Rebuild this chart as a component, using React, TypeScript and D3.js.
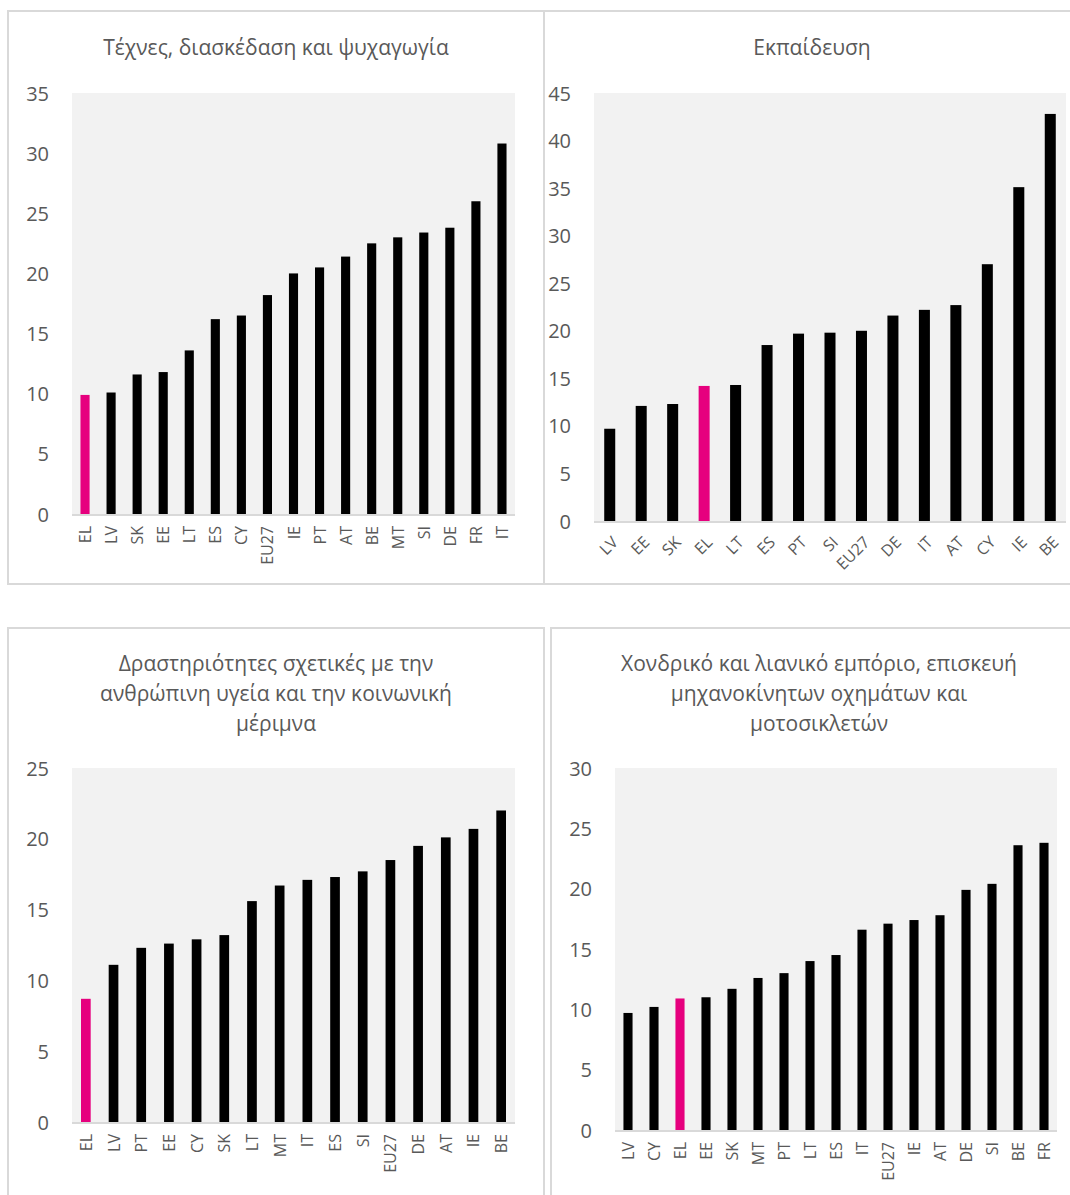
import React from "react";
import * as d3 from "d3";

// ---------- DATA ----------
const artsCountries = ["EL", "LV", "SK", "EE", "LT", "ES", "CY", "EU27", "IE", "PT", "AT", "BE", "MT", "SI", "DE", "FR", "IT"];
const artsValues = [9.9, 10.1, 11.6, 11.8, 13.6, 16.2, 16.5, 18.2, 20.0, 20.5, 21.4, 22.5, 23.0, 23.4, 23.8, 26.0, 30.8];

const eduCountries = ["LV", "EE", "SK", "EL", "LT", "ES", "PT", "SI", "EU27", "DE", "IT", "AT", "CY", "IE", "BE"];
const eduValues = [9.7, 12.1, 12.3, 14.2, 14.3, 18.5, 19.7, 19.8, 20.0, 21.6, 22.2, 22.7, 27.0, 35.1, 42.8];

const healthCountries = ["EL", "LV", "PT", "EE", "CY", "SK", "LT", "MT", "IT", "ES", "SI", "EU27", "DE", "AT", "IE", "BE"];
const healthValues = [8.7, 11.1, 12.3, 12.6, 12.9, 13.2, 15.6, 16.7, 17.1, 17.3, 17.7, 18.5, 19.5, 20.1, 20.7, 22.0];

const tradeCountries = ["LV", "CY", "EL", "EE", "SK", "MT", "PT", "LT", "ES", "IT", "EU27", "IE", "AT", "DE", "SI", "BE", "FR"];
const tradeValues = [9.7, 10.2, 10.9, 11.0, 11.7, 12.6, 13.0, 14.0, 14.5, 16.6, 17.1, 17.4, 17.8, 19.9, 20.4, 23.6, 23.8];

const artsTitle = ["Τέχνες, διασκέδαση και ψυχαγωγία"];
const eduTitle = ["Εκπαίδευση"];
const healthTitle = ["Δραστηριότητες σχετικές με την", "ανθρώπινη υγεία και την κοινωνική", "μέριμνα"];
const tradeTitle = ["Χονδρικό και λιανικό εμπόριο, επισκευή", "μηχανοκίνητων οχημάτων και", "μοτοσικλετών"];

const artsTicks = [0, 5, 10, 15, 20, 25, 30, 35];
const eduTicks = [0, 5, 10, 15, 20, 25, 30, 35, 40, 45];
const healthTicks = [0, 5, 10, 15, 20, 25];
const tradeTicks = [0, 5, 10, 15, 20, 25, 30];

const highlight = "EL";

// ---------- STYLE ----------
const FONT = "'Open Sans', 'Noto Sans', sans-serif";
const TEXT = "#595959";
const GRID_BG = "#f2f2f2";
const LINE = "#d9d9d9";
const PINK = "#e6007e";

type PanelProps = {
  frame: [number, number, number, number];
  titleLines: string[];
  titleX: number;
  titleY: number;
  countries: string[];
  values: number[];
  ticks: number[];
  left: number;
  right: number;
  top: number;
  bottom: number;
  rotate: number;
};

function Panel(p: PanelProps) {
  const x = d3.scaleBand<string>().domain(p.countries).range([p.left, p.right]).paddingInner(0.65).paddingOuter(0.325);
  const yMax = p.ticks[p.ticks.length - 1];
  const y = d3.scaleLinear().domain([0, yMax]).range([p.bottom, p.top]);
  const [fx, fy, fw, fh] = p.frame;
  return (
    <g>
      <rect x={fx} y={fy} width={fw} height={fh} fill="#fff" stroke={LINE} strokeWidth={2} />
      {p.titleLines.map((t, i) => (
        <text key={i} x={p.titleX} y={p.titleY + i * 30} textAnchor="middle" dominantBaseline="central" fontFamily={FONT} fontSize={21} fill={TEXT}>
          {t}
        </text>
      ))}
      <rect x={p.left} y={p.top} width={p.right - p.left} height={p.bottom - p.top} fill={GRID_BG} />
      {p.ticks.map((t) => (
        <text key={t} x={p.left - 23} y={y(t)} textAnchor="end" dominantBaseline="central" fontFamily={FONT} fontSize={20} fill={TEXT}>
          {t}
        </text>
      ))}
      {p.countries.map((c, i) => (
        <rect key={c} x={x(c)} y={y(p.values[i])} width={x.bandwidth()} height={y(0) - y(p.values[i])} fill={c === highlight ? PINK : "#000"} />
      ))}
      <line x1={p.left} x2={p.right} y1={p.bottom + 1} y2={p.bottom + 1} stroke={LINE} strokeWidth={2} />
      {p.countries.map((c) => {
        const cx = (x(c) as number) + x.bandwidth() / 2;
        if (p.rotate === -90) {
          return (
            <text key={c} transform={`translate(${cx},${p.bottom + 12}) rotate(-90)`} textAnchor="end" dominantBaseline="central" fontFamily={FONT} fontSize={16} fill={TEXT}>
              {c}
            </text>
          );
        }
        return (
          <text key={c} transform={`translate(${cx + 5},${p.bottom + 18}) rotate(-45)`} textAnchor="end" dominantBaseline="central" fontFamily={FONT} fontSize={16} fill={TEXT}>
            {c}
          </text>
        );
      })}
    </g>
  );
}

export default function App() {
  return (
    <svg width={1070} height={1195} style={{ position: "absolute", left: 0, top: 0, background: "#fff" }}>
      <rect x={0} y={0} width={1070} height={1195} fill="#fff" />
      <Panel frame={[8, 11, 536, 573]} titleLines={artsTitle} titleX={276} titleY={47}
        countries={artsCountries} values={artsValues} ticks={artsTicks}
        left={72} right={515} top={93} bottom={514} rotate={-90} />
      <Panel frame={[544, 11, 540, 573]} titleLines={eduTitle} titleX={812} titleY={47}
        countries={eduCountries} values={eduValues} ticks={eduTicks}
        left={594} right={1066} top={93} bottom={521} rotate={-45} />
      <Panel frame={[8, 628, 536, 600]} titleLines={healthTitle} titleX={276} titleY={663}
        countries={healthCountries} values={healthValues} ticks={healthTicks}
        left={72} right={515} top={768} bottom={1122} rotate={-90} />
      <Panel frame={[551, 628, 540, 600]} titleLines={tradeTitle} titleX={819} titleY={663}
        countries={tradeCountries} values={tradeValues} ticks={tradeTicks}
        left={615} right={1057} top={768} bottom={1130} rotate={-90} />
    </svg>
  );
}
